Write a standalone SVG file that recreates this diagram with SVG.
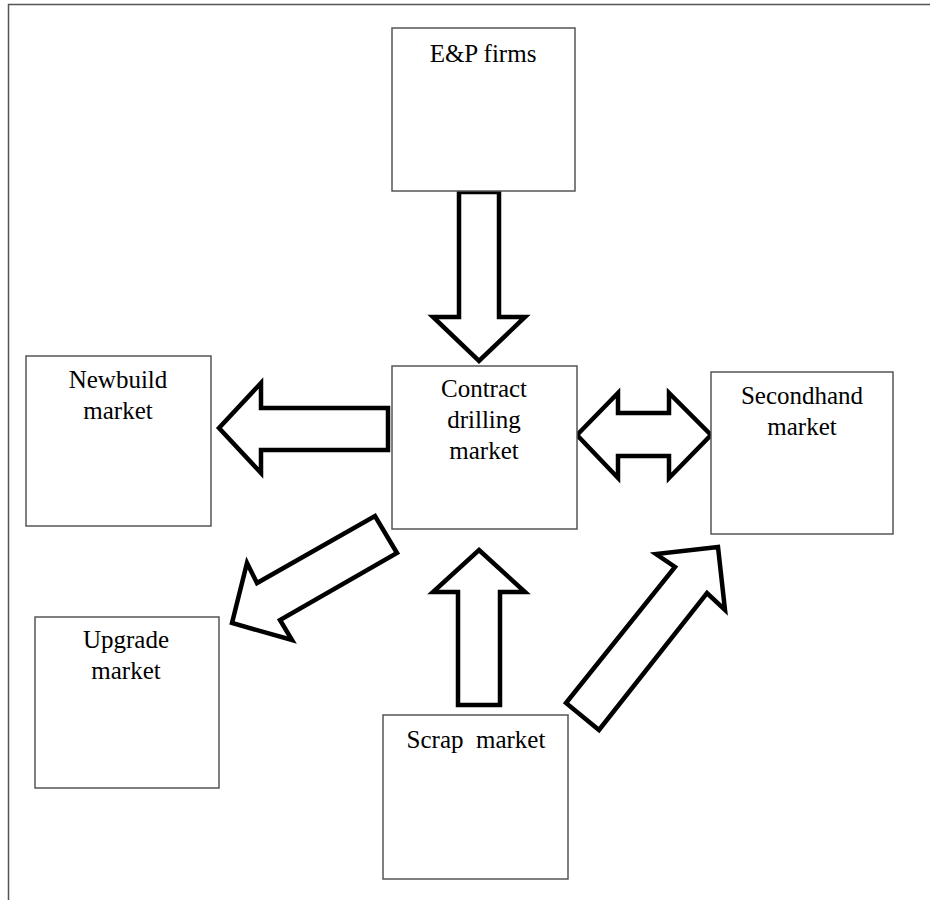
<svg xmlns="http://www.w3.org/2000/svg" width="930" height="900" viewBox="0 0 930 900">
<style>
.box{fill:#fff;stroke:#555;stroke-width:1.5}
.arr{fill:#fff;stroke:#000;stroke-width:4.5;stroke-linejoin:miter}
text{font-family:"Liberation Serif","Times New Roman",serif;font-size:25px;fill:#000;text-anchor:middle}
</style>
<rect width="930" height="900" fill="#fff"/>
<path d="M8.5 900 V4.5 H930" fill="none" stroke="#555" stroke-width="1.5"/>
<g id="connectors">
<polygon class="arr" points="459,192 499,192 499,317 525,317 479,361 433,317 459,317"/>
<polygon class="arr" points="388,408 388,450 261,450 261,473 219,428 261,383 261,408"/>
<polygon class="arr" points="577,435 618,393 618,413 669,413 669,393 711,435 669,478 669,456 618,456 618,478"/>
<polygon class="arr" points="232,623 247,563 257,583 375,516 397,553 280,620 292,640"/>
<polygon class="arr" points="479,550 525,592 500,592 500,705 458,705 458,592 433,592"/>
<polygon class="arr" points="718,547 725,610 707,593 599,730 566,703 675,567 656,554"/>
</g>
<g id="ep"><rect class="box" x="392" y="28" width="183" height="163"/><text x="483" y="62">E&amp;P firms</text></g>
<g id="contract"><rect class="box" x="392" y="366" width="185" height="163"/><text x="484" y="397">Contract</text><text x="484" y="428">drilling</text><text x="484" y="459">market</text></g>
<g id="newbuild"><rect class="box" x="26" y="356" width="185" height="170"/><text x="118" y="388">Newbuild</text><text x="118" y="419">market</text></g>
<g id="secondhand"><rect class="box" x="711" y="372" width="182" height="162"/><text x="802" y="404">Secondhand</text><text x="802" y="435">market</text></g>
<g id="upgrade"><rect class="box" x="35" y="617" width="184" height="171"/><text x="126" y="648">Upgrade</text><text x="126" y="679">market</text></g>
<g id="scrap"><rect class="box" x="383" y="715" width="185" height="164"/><text x="476" y="748" xml:space="preserve">Scrap  market</text></g>
</svg>
